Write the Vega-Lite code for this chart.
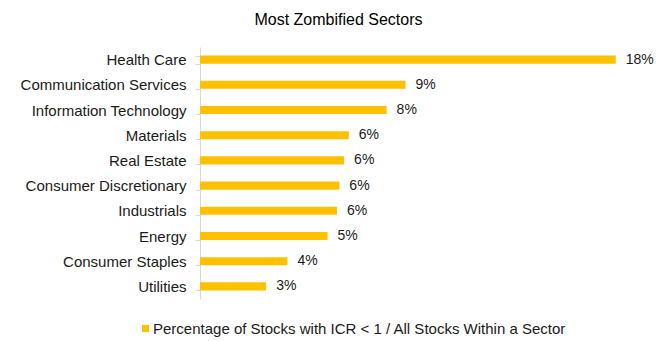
{
  "$schema": "https://vega.github.io/schema/vega-lite/v6.json",
  "autosize": {"type": "none"},
  "padding": {"left": 200, "top": 47, "right": 0, "bottom": 42},
  "width": 467,
  "height": 252,
  "background": "white",
  "title": {
    "text": "Most Zombified Sectors",
    "anchor": "middle",
    "frame": "group",
    "font": "Liberation Sans",
    "fontSize": 16,
    "fontWeight": "normal",
    "color": "#000000",
    "baseline": "alphabetic",
    "offset": 21,
    "dx": -95,
    "dy": 22
  },
  "data": {
    "values": [
      {"sector": "Health Care", "pct": 0.176, "series": "Percentage of Stocks with ICR < 1 / All Stocks Within a Sector"},
      {"sector": "Communication Services", "pct": 0.087, "series": "Percentage of Stocks with ICR < 1 / All Stocks Within a Sector"},
      {"sector": "Information Technology", "pct": 0.079, "series": "Percentage of Stocks with ICR < 1 / All Stocks Within a Sector"},
      {"sector": "Materials", "pct": 0.063, "series": "Percentage of Stocks with ICR < 1 / All Stocks Within a Sector"},
      {"sector": "Real Estate", "pct": 0.061, "series": "Percentage of Stocks with ICR < 1 / All Stocks Within a Sector"},
      {"sector": "Consumer Discretionary", "pct": 0.059, "series": "Percentage of Stocks with ICR < 1 / All Stocks Within a Sector"},
      {"sector": "Industrials", "pct": 0.058, "series": "Percentage of Stocks with ICR < 1 / All Stocks Within a Sector"},
      {"sector": "Energy", "pct": 0.054, "series": "Percentage of Stocks with ICR < 1 / All Stocks Within a Sector"},
      {"sector": "Consumer Staples", "pct": 0.037, "series": "Percentage of Stocks with ICR < 1 / All Stocks Within a Sector"},
      {"sector": "Utilities", "pct": 0.028, "series": "Percentage of Stocks with ICR < 1 / All Stocks Within a Sector"}
    ]
  },
  "encoding": {
    "y": {
      "field": "sector",
      "type": "nominal",
      "sort": null,
      "title": null,
      "scale": {"paddingInner": 0.68, "paddingOuter": 0.34},
      "axis": {
        "domainColor": "#d9d9d9",
        "tickColor": "#d9d9d9",
        "tickBand": "extent",
        "tickSize": 5,
        "labelPadding": 9,
        "labelFont": "Liberation Sans",
        "labelFontSize": 15,
        "labelColor": "#1a1a1a",
        "labelLimit": 300,
        "grid": false
      }
    },
    "x": {
      "field": "pct",
      "type": "quantitative",
      "scale": {"domain": [0, 0.1977], "nice": false},
      "axis": null
    }
  },
  "layer": [
    {
      "mark": {"type": "bar"},
      "encoding": {
        "color": {
          "field": "series",
          "type": "nominal",
          "scale": {"range": ["#FFC000"]},
          "legend": {
            "title": null,
            "orient": "none",
            "legendX": -62,
            "legendY": 274,
            "symbolType": "square",
            "symbolSize": 50,
            "labelOffset": 0,
            "labelFont": "Liberation Sans",
            "labelFontSize": 15,
            "labelColor": "#1a1a1a",
            "labelLimit": 600
          }
        }
      }
    },
    {
      "mark": {"type": "text", "align": "left", "baseline": "middle", "dx": 10, "font": "Liberation Sans", "fontSize": 14, "color": "#1a1a1a"},
      "encoding": {
        "text": {"field": "pct", "type": "quantitative", "format": ".0%"}
      }
    }
  ],
  "config": {"view": {"stroke": null}}
}
